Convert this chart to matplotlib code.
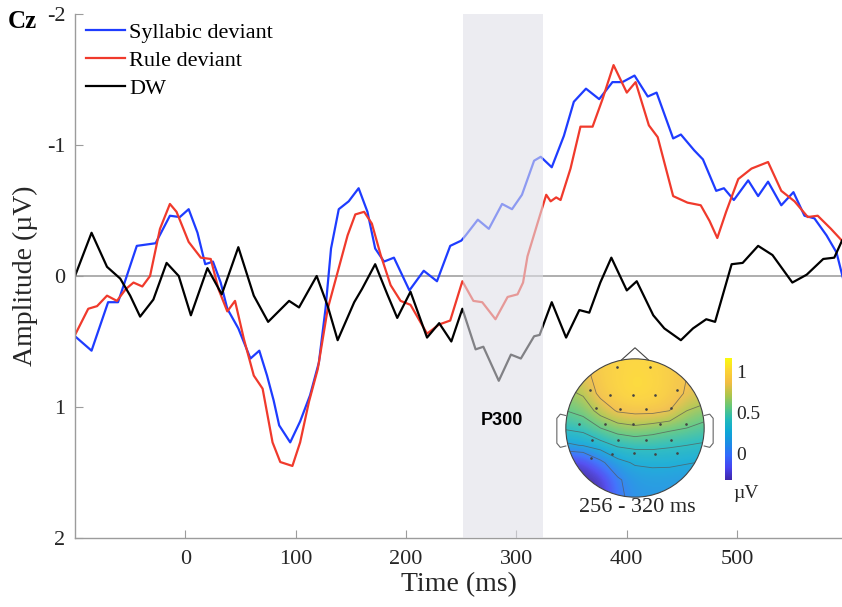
import numpy as np
import matplotlib
matplotlib.use("Agg")
import matplotlib.pyplot as plt
from matplotlib.colors import LinearSegmentedColormap
from matplotlib.patches import Circle, Polygon

plt.rcParams['font.family'] = ['Liberation Serif', 'DejaVu Serif']

# ERP at Cz, values in microvolts (negative up)
t_syl = [-100, -85, -70, -61, -44, -27, -14, -5, 3, 11, 18, 25, 32, 38, 48, 59, 67, 74, 80, 85,
         95, 104, 113, 121, 127, 132, 139, 148, 157, 165, 172, 180, 189, 203, 216, 228, 240, 250,
         254, 265, 275, 287, 296, 305, 316, 322, 332, 343, 352, 363, 375, 387, 396, 407, 419, 427,
         442, 449, 461, 469, 481, 488, 497, 510, 519, 528, 540, 551, 561, 570, 581, 590, 596]
amp_syl = [0.46, 0.57, 0.20, 0.20, -0.23, -0.25, -0.46, -0.45, -0.51, -0.33, -0.09, -0.11, 0.05,
           0.25, 0.40, 0.63, 0.57, 0.76, 0.95, 1.14, 1.27, 1.11, 0.91, 0.66, 0.25, -0.21, -0.51,
           -0.57, -0.67, -0.49, -0.21, -0.11, -0.14, 0.11, -0.04, 0.04, -0.23, -0.27, -0.31, -0.43,
           -0.36, -0.55, -0.51, -0.62, -0.88, -0.91, -0.83, -1.07, -1.33, -1.43, -1.35, -1.48,
           -1.48, -1.53, -1.37, -1.40, -1.05, -1.08, -0.96, -0.89, -0.65, -0.67, -0.58, -0.73,
           -0.61, -0.72, -0.54, -0.64, -0.46, -0.44, -0.31, -0.18, 0.02]

t_rule = [-100, -88, -80, -71, -62, -54, -47, -39, -32, -23, -14, -8, 3, 14, 23, 30, 38, 45, 53,
          62, 70, 79, 86, 97, 104, 112, 120, 129, 138, 147, 154, 162, 169, 177, 186, 195, 204, 219,
          230, 240, 251, 261, 269, 281, 292, 301, 306, 310, 319, 327, 331, 336, 340, 349, 358, 369,
          378, 388, 400, 408, 420, 428, 442, 455, 467, 475, 482, 490, 501, 513, 528, 540, 552, 564,
          573, 585, 596]
amp_rule = [0.45, 0.25, 0.23, 0.15, 0.19, 0.10, 0.05, 0.08, 0.00, -0.36, -0.55, -0.49, -0.26,
            -0.14, -0.13, 0.10, 0.27, 0.19, 0.48, 0.76, 0.86, 1.27, 1.42, 1.45, 1.27, 0.96, 0.71,
            0.25, -0.03, -0.31, -0.47, -0.49, -0.40, -0.16, 0.07, 0.19, 0.22, 0.44, 0.37, 0.34,
            0.04, 0.19, 0.20, 0.33, 0.16, 0.14, 0.05, -0.15, -0.40, -0.62, -0.57, -0.60, -0.58,
            -0.82, -1.14, -1.14, -1.35, -1.61, -1.40, -1.48, -1.15, -1.06, -0.61, -0.56, -0.54,
            -0.42, -0.29, -0.49, -0.74, -0.82, -0.87, -0.65, -0.57, -0.45, -0.46, -0.36, -0.26]

t_dw = [-100, -85, -71, -59, -50, -41, -29, -17, -6, 5, 20, 33, 48, 62, 75, 94, 103, 119, 129, 138,
        153, 160, 172, 183, 192, 204, 219, 230, 241, 251, 263, 270, 284, 295, 304, 316, 321, 332,
        345, 357, 366, 376, 386, 400, 409, 424, 434, 449, 460, 472, 480, 495, 505, 519, 532, 550,
        563, 578, 588, 595]
amp_dw = [0.00, -0.33, -0.07, 0.02, 0.15, 0.31, 0.18, -0.10, 0.00, 0.30, -0.06, 0.14, -0.22, 0.15,
          0.35, 0.19, 0.24, 0.00, 0.23, 0.49, 0.20, 0.10, -0.09, 0.14, 0.32, 0.12, 0.47, 0.36,
          0.50, 0.25, 0.56, 0.54, 0.80, 0.60, 0.63, 0.46, 0.45, 0.20, 0.47, 0.26, 0.28, 0.05,
          -0.14, 0.11, 0.04, 0.30, 0.40, 0.49, 0.40, 0.33, 0.35, -0.09, -0.10, -0.23, -0.16, 0.05,
          -0.01, -0.13, -0.14, -0.27]

shade_on, shade_off = 252, 324

# topography 256-320 ms (head coordinates, front = up)
topo_u = [-1, -0.75, -0.5, -0.25, 0, 0.25, 0.5, 0.75, 1]
topo_v = [1, 0.75, 0.5, 0.25, 0, -0.25, -0.5, -0.75, -1]
topo_z = [[0.80, 0.86, 0.96, 1.00, 1.02, 1.00, 0.96, 0.88, 0.84],
          [0.76, 0.82, 0.95, 1.00, 1.04, 1.02, 0.96, 0.88, 0.84],
          [0.66, 0.72, 0.93, 1.00, 1.05, 1.02, 0.96, 0.86, 0.80],
          [0.55, 0.60, 0.76, 0.90, 0.93, 0.93, 0.88, 0.70, 0.64],
          [0.42, 0.45, 0.55, 0.62, 0.66, 0.62, 0.58, 0.55, 0.50],
          [0.22, 0.26, 0.34, 0.42, 0.44, 0.44, 0.42, 0.40, 0.38],
          [-0.30, -0.25, 0.00, 0.20, 0.27, 0.28, 0.28, 0.26, 0.24],
          [-0.36, -0.36, -0.30, 0.02, 0.15, 0.18, 0.17, 0.15, 0.14],
          [-0.36, -0.36, -0.34, 0.00, 0.12, 0.14, 0.14, 0.12, 0.12]]
elec_u = [-0.26, 0.21, -0.65, -0.36, -0.03, 0.29, 0.60, -0.57, -0.21, 0.16, 0.52, -0.81, -0.43,
          -0.03, 0.36, 0.74, -0.62, -0.24, 0.16, 0.52, -0.33, -0.02, 0.29, 0.60, -0.64]
elec_v = [0.88, 0.88, 0.55, 0.48, 0.48, 0.48, 0.55, 0.29, 0.27, 0.27, 0.29, 0.06, 0.06, 0.06, 0.06,
          0.06, -0.17, -0.17, -0.17, -0.17, -0.38, -0.36, -0.38, -0.36, -0.43]

parula = LinearSegmentedColormap.from_list('parula', [
    (0.00, (0.242, 0.150, 0.660)), (0.10, (0.277, 0.259, 0.940)), (0.20, (0.196, 0.414, 0.990)),
    (0.30, (0.104, 0.553, 0.897)), (0.40, (0.055, 0.660, 0.835)), (0.50, (0.138, 0.730, 0.724)),
    (0.60, (0.380, 0.780, 0.480)), (0.70, (0.690, 0.770, 0.290)), (0.80, (0.950, 0.740, 0.260)),
    (0.90, (0.990, 0.830, 0.200)), (1.00, (0.977, 0.983, 0.054))])

fig = plt.figure(figsize=(8.42, 6.07), dpi=100)
ax = fig.add_axes([75/842, 1 - 538/607, 1 - 75/842, 524/607])

ax.axhline(0, color='#a8a8a8', lw=1.3, zorder=1)
line_kw = dict(lw=1.6, zorder=2, solid_joinstyle='round')
l1, = ax.plot(t_syl, amp_syl, color='#1e3cff', **line_kw)
l2, = ax.plot(t_rule, amp_rule, color='#f03a2c', **line_kw)
l3, = ax.plot(t_dw, amp_dw, color='black', **line_kw)
ax.axvspan(shade_on, shade_off, color=(0.875, 0.875, 0.905), alpha=0.58, lw=0, zorder=3)

ax.set_xlim(-100, 595)
ax.set_ylim(2, -2)
ax.set_xticks([0, 100, 200, 300, 400, 500])
ax.set_yticks([-2, -1, 0, 1, 2])
ax.set_yticklabels(['-2', '-1', '0', '1', '2'])
for s in ['top', 'right']:
    ax.spines[s].set_visible(False)
for s in ['left', 'bottom']:
    ax.spines[s].set_color('#9c9c9c')
    ax.spines[s].set_linewidth(1.0)
ax.tick_params(direction='in', length=6, color='#9c9c9c', labelsize=16, labelcolor='#262626')
ax.tick_params(axis='x', pad=9)
ax.tick_params(axis='y', pad=7)
ax.set_xlabel('Time (ms)', fontsize=20, color='#262626', labelpad=2)
ax.set_ylabel('Amplitude (µV)', fontsize=20, color='#262626', labelpad=6)
ax.patch.set_alpha(0)

ax.text(287, 1.1, 'P300', ha='center', va='center', fontsize=13, fontweight='bold',
        family=['Liberation Sans', 'DejaVu Sans'], zorder=4)
fig.text(8/842, 1 - 21/607, 'Cz', fontsize=18, fontweight='bold', va='center', ha='left')

fig.legend([l1, l2, l3], ['Syllabic deviant', 'Rule deviant', 'DW'], loc='upper left',
           bbox_to_anchor=(86/842, 1 - 22/607), frameon=False, fontsize=16, handlelength=1.75,
           handletextpad=0.2, labelspacing=0.35, borderpad=0, borderaxespad=0)

# scalp map inset
hx = fig.add_axes([552/842, 1 - 511/607, 166/842, 166/607])
hx.set_xlim(-1.2, 1.2)
hx.set_ylim(-1.2, 1.2)
hx.axis('off')
head = Circle((0, 0), 1.0, transform=hx.transData)
im = hx.imshow(np.array(topo_z), extent=[-1.125, 1.125, -1.125, 1.125], cmap=parula, vmin=-0.33,
               vmax=1.17, interpolation='bicubic', alpha=0.92, zorder=1)
im.set_clip_path(head)
cs = hx.contour(topo_u, topo_v, np.array(topo_z), levels=[0.05, 0.25, 0.4, 0.55, 0.7, 0.88],
                colors='#555555', linewidths=0.6, alpha=0.7, zorder=2)
cs.set_clip_path(head)
hx.plot(elec_u, elec_v, 'o', ms=0.9, color='#444444', zorder=3)
hx.add_patch(Circle((0, 0), 1.0, fill=False, ec='#444444', lw=0.8, zorder=4))
hx.add_patch(Polygon([[-0.2, 0.98], [0.0, 1.16], [0.2, 0.98]], closed=False, fill=False,
                     ec='#444444', lw=0.8, zorder=4))
for sgn in [-1, 1]:
    hx.plot([sgn * 1.0, sgn * 1.08, sgn * 1.13, sgn * 1.13, sgn * 1.08, sgn * 1.0],
            [0.18, 0.2, 0.14, -0.22, -0.28, -0.26], color='#666666', lw=0.8, zorder=4)

cax = fig.add_axes([725/842, 1 - 480/607, 7/842, 122/607])
cb = fig.colorbar(im, cax=cax)
cb.solids.set_alpha(1)
cb.outline.set_visible(False)
cb.set_ticks([0, 0.5, 1])
cb.set_ticklabels(['0', '0.5', '1'])
cax.tick_params(length=0, labelsize=14, pad=3, labelcolor='#262626')
fig.text(733/842, 1 - 493/607, 'µV', fontsize=14, ha='left', va='center', color='#262626')
fig.text(637/842, 1 - 508/607, '256 - 320 ms', fontsize=16, ha='center', va='center',
         color='#262626')

fig.savefig('out.png', dpi=100)
